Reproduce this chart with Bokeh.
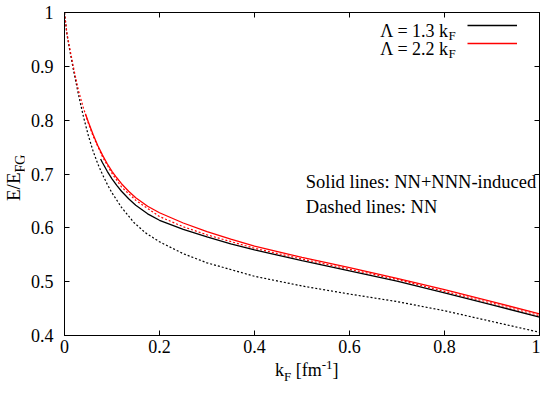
from bokeh.plotting import figure
from bokeh.models import (Range1d, LinearAxis, FixedTicker, Label, Legend,
                          LegendItem, CustomJSTickFormatter, Div)
from bokeh.layouts import row, column
from bokeh.embed import file_html
from bokeh.resources import INLINE

# ---- data ----
# NN only, Lambda = 1.3 kF (black dashed)
x_nn13 = [0, 0.005, 0.01, 0.02, 0.03, 0.04, 0.05, 0.06, 0.07, 0.08, 0.09, 0.1, 0.12, 0.146,
          0.17, 0.2, 0.25, 0.3, 0.4, 0.5, 0.6, 0.7, 0.8, 0.875, 0.9, 1.0]
y_nn13 = [1.0, 0.960, 0.935, 0.888, 0.845, 0.806, 0.772, 0.743, 0.719, 0.699, 0.681, 0.665,
          0.638, 0.610, 0.591, 0.574, 0.552, 0.535, 0.510, 0.492, 0.477, 0.463, 0.446, 0.431,
          0.426, 0.406]
# NN only, Lambda = 2.2 kF (red dashed)
x_nn22 = [0, 0.005, 0.01, 0.02, 0.03, 0.04, 0.05, 0.06, 0.08, 0.1, 0.12, 0.15, 0.2, 0.25,
          0.3, 0.4, 0.5, 0.6, 0.7, 0.8, 0.9, 1.0]
y_nn22 = [1.0, 0.962, 0.938, 0.893, 0.853, 0.822, 0.795, 0.771, 0.732, 0.701, 0.676, 0.651,
          0.621, 0.602, 0.587, 0.562, 0.542, 0.523, 0.504, 0.482, 0.460, 0.437]
# NN+NNN-induced, Lambda = 1.3 kF (black solid)
x_3n13 = [0.076, 0.08, 0.09, 0.1, 0.11, 0.12, 0.135, 0.15, 0.175, 0.2, 0.25, 0.3, 0.35, 0.4,
          0.5, 0.6, 0.7, 0.8, 0.9, 1.0]
y_3n13 = [0.728, 0.721, 0.705, 0.691, 0.679, 0.668, 0.654, 0.642, 0.626, 0.614, 0.597, 0.583,
          0.570, 0.559, 0.539, 0.520, 0.501, 0.479, 0.457, 0.434]
# NN+NNN-induced, Lambda = 2.2 kF (red solid)
x_3n22 = [0.044, 0.05, 0.06, 0.07, 0.08, 0.09, 0.1, 0.11, 0.12, 0.135, 0.15, 0.175, 0.2, 0.25,
          0.3, 0.35, 0.4, 0.5, 0.6, 0.7, 0.8, 0.9, 1.0]
y_3n22 = [0.812, 0.797, 0.774, 0.753, 0.735, 0.719, 0.705, 0.693, 0.682, 0.668, 0.656, 0.640,
          0.628, 0.609, 0.593, 0.579, 0.566, 0.545, 0.526, 0.506, 0.485, 0.463, 0.440]

x_ticks = [0, 0.2, 0.4, 0.6, 0.8, 1.0]
y_ticks = [0.4, 0.5, 0.6, 0.7, 0.8, 0.9, 1.0]

FONT = "Liberation Serif"

p = figure(width=516, height=359, output_backend="svg", toolbar_location=None,
           x_range=Range1d(0, 1), y_range=Range1d(0.4, 1.0),
           min_border_left=40, min_border_right=1, min_border_top=12, min_border_bottom=24)
p.xgrid.visible = False
p.ygrid.visible = False
p.outline_line_color = "black"
p.outline_line_width = 1
p.background_fill_color = "white"
p.border_fill_color = "white"

fmt = CustomJSTickFormatter(code="return String(Math.round(tick*10)/10)")
blank = CustomJSTickFormatter(code="return ''")

def style(ax, ticks, formatter):
    ax.ticker = FixedTicker(ticks=ticks)
    ax.formatter = formatter
    ax.major_tick_in = 5
    ax.major_tick_out = 0
    ax.minor_tick_in = 0
    ax.minor_tick_out = 0
    ax.axis_line_color = "black"
    ax.major_tick_line_color = "black"
    ax.major_label_text_font = FONT
    ax.major_label_text_font_size = "18px"
    ax.major_label_text_color = "black"

style(p.xaxis[0], x_ticks, fmt)
style(p.yaxis[0], y_ticks, fmt)
p.xaxis[0].major_label_standoff = 4
p.yaxis[0].major_label_standoff = 11

top = LinearAxis()
style(top, x_ticks, blank)
top.major_label_standoff = 0
p.add_layout(top, "above")
right = LinearAxis()
style(right, y_ticks, blank)
right.major_label_standoff = 0
p.add_layout(right, "right")

r_nn13 = p.line(x_nn13, y_nn13, line_color="black", line_width=1.2, line_dash="2 2")
r_nn22 = p.line(x_nn22, y_nn22, line_color="red", line_width=1.2, line_dash="2 2")
r_3n13 = p.line(x_3n13, y_3n13, line_color="black", line_width=1.3)
r_3n22 = p.line(x_3n22, y_3n22, line_color="red", line_width=1.3)

legend = Legend(items=[LegendItem(label=" ", renderers=[r_3n13]),
                       LegendItem(label=" ", renderers=[r_3n22])],
                location="top_right", glyph_width=50, glyph_height=18, label_height=18,
                label_width=18, label_standoff=0, padding=0, spacing=0, margin=4,
                border_line_alpha=0, background_fill_alpha=0, label_text_font_size="1px")
p.add_layout(legend)

def lab(x, y, text, size="18px", align="left", units="canvas", baseline="alphabetic"):
    p.add_layout(Label(x=x, y=y, x_units=units, y_units=units, text=text,
                       text_font=FONT, text_font_size=size, text_color="black",
                       text_align=align, text_baseline=baseline))

# legend texts (inside the frame)
lab(424, 30.3, "\u039b = 1.3 k", align="right")
lab(424, 35, "F", size="13px")
lab(424, 48.3, "\u039b = 2.2 k", align="right")
lab(424, 53, "F", size="13px")

# annotation texts
lab(0.508, 0.686, "Solid lines: NN+NNN-induced", size="18.5px", units="data", baseline="middle")
lab(0.508, 0.638, "Dashed lines: NN", size="18.5px", units="data", baseline="middle")

# axis titles as HTML text (sub/superscripts)
TXT = "font-family:'Liberation Serif';color:black;white-space:nowrap;"
ylab = Div(width=24, height=359, margin=0, text=(
    "<div style=\"position:relative;width:24px;height:359px\">"
    "<div style=\"position:absolute;left:4px;top:201px;transform:rotate(-90deg);"
    "transform-origin:left top;font-size:19px;line-height:20px;" + TXT + "\">"
    "E/E<sub style=\"font-size:14px;line-height:0\">FG</sub></div></div>"))
xlab = Div(width=540, height=21, margin=0, text=(
    "<div style=\"position:relative;width:540px;height:21px\">"
    "<div style=\"position:absolute;left:275px;top:1px;font-size:18px;line-height:20px;"
    + TXT + "\">"
    "k<sub style=\"font-size:13px;line-height:0\">F</sub> [fm"
    "<sup style=\"font-size:13px;line-height:0\">-1</sup>]</div></div>"))

layout = column(row(ylab, p, spacing=0), xlab, spacing=0)

open("out.html", "w").write(file_html(layout, INLINE))
